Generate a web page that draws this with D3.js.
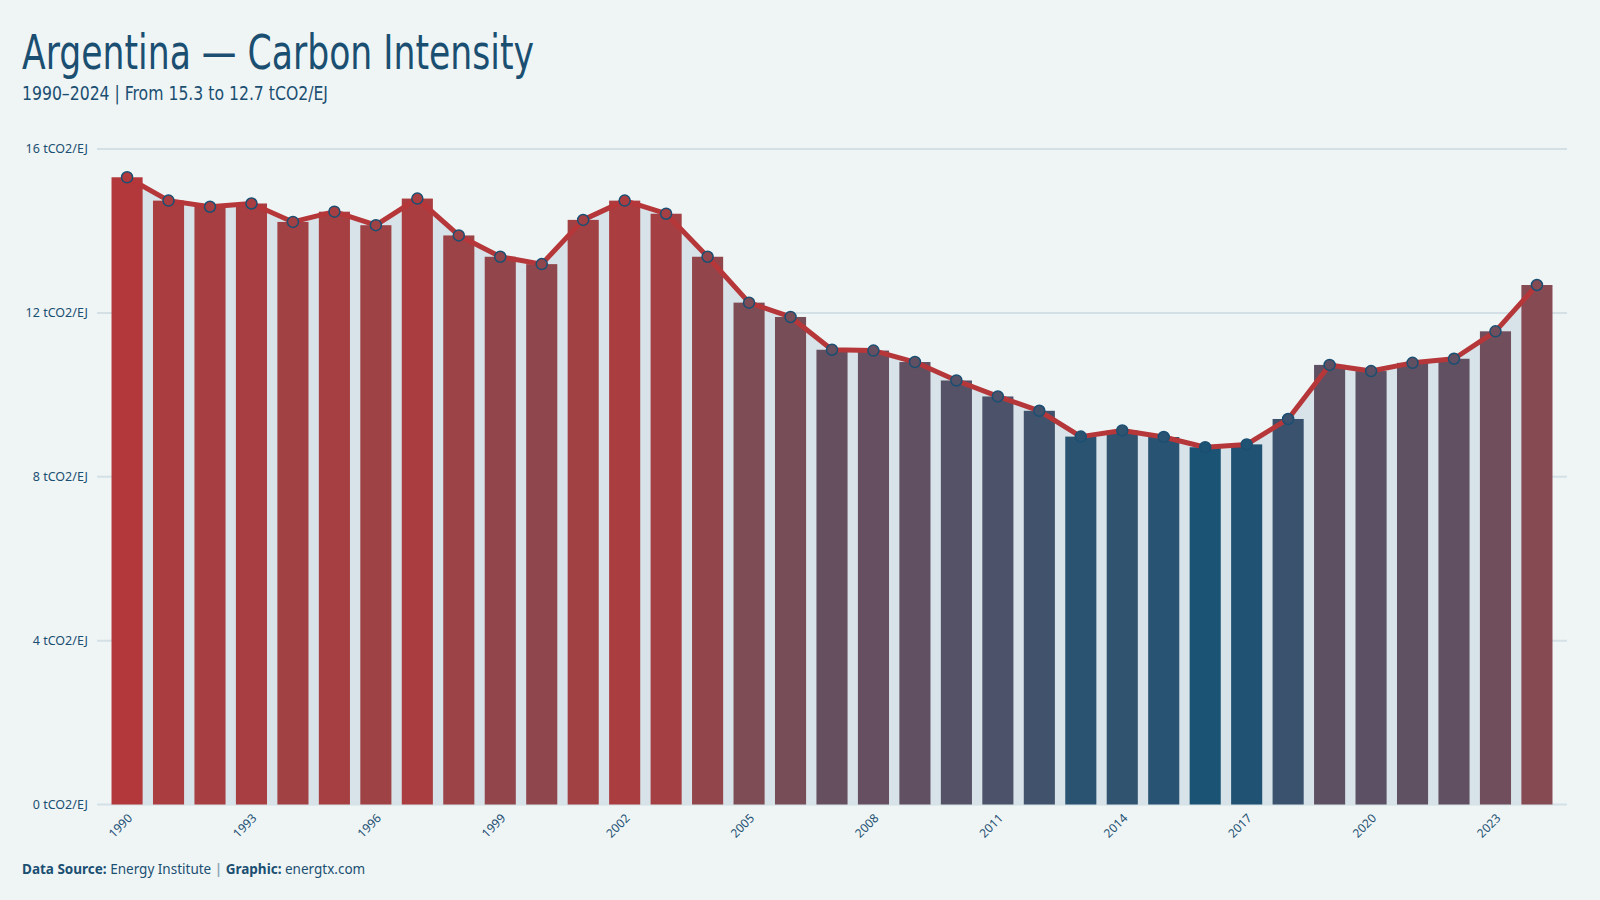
<!DOCTYPE html>
<html>
<head>
<meta charset="utf-8">
<script src="https://cdn.jsdelivr.net/npm/d3@7"></script>
<style>
  html, body { margin: 0; padding: 0; background: #eff5f5; }
  svg { display: block; }
</style>
</head>
<body>
<div id="chart"></div>
<script>
'use strict';

// data (tCO2/EJ)
const years = [1990, 1991, 1992, 1993, 1994, 1995, 1996, 1997, 1998, 1999,
  2000, 2001, 2002, 2003, 2004, 2005, 2006, 2007, 2008, 2009,
  2010, 2011, 2012, 2013, 2014, 2015, 2016, 2017, 2018, 2019,
  2020, 2021, 2022, 2023, 2024]
const intensity = [15.31, 14.74, 14.59, 14.67, 14.22, 14.47, 14.14, 14.79, 13.89, 13.37,
  13.19, 14.27, 14.74, 14.42, 13.37, 12.25, 11.90, 11.10, 11.08, 10.80,
  10.35, 9.96, 9.61, 8.98, 9.13, 8.97, 8.72, 8.79, 9.41, 10.73,
  10.58, 10.78, 10.88, 11.55, 12.68]
const yTicks = [0, 4, 8, 12, 16]
const xTickYears = [1990, 1993, 1996, 1999, 2002, 2005, 2008, 2011, 2014, 2017, 2020, 2023]

const title = 'Argentina \u2014 Carbon Intensity'
const subtitle = '1990\u20132024 | From 15.3 to 12.7 tCO2/EJ'

const W = 1600, H = 900
const ink = '#1b4f72'
const condensed = "'DejaVu Sans Condensed', 'DejaVu Sans', sans-serif"
const sans = "'Noto Sans', 'Open Sans', sans-serif"

const data = years.map((y, i) => ({year: y, value: intensity[i]}))

const svg = d3.select('#chart').append('svg')
  .attr('width', W)
  .attr('height', H)

svg.append('rect').attr('width', W).attr('height', H).attr('fill', '#eff5f5')

const x = d3.scaleBand()
  .domain(years)
  .range([97, 1567])
  .paddingInner(0.25)
  .paddingOuter(0.35)

const y = d3.scaleLinear()
  .domain([0, 16])
  .range([804.5, 149])

const color = d3.scaleLinear()
  .domain(d3.extent(intensity))
  .range(['#1b5374', '#b3383b'])
  .interpolate(d3.interpolateLab)

const cx = d => x(d.year) + x.bandwidth() / 2

// title block (condensed face squeezed to the reference width)
svg.append('text')
  .attr('x', 22).attr('y', 69)
  .style('font-family', condensed)
  .style('font-stretch', 'condensed')
  .style('font-size', '48px')
  .attr('textLength', 512)
  .attr('lengthAdjust', 'spacingAndGlyphs')
  .attr('fill', ink)
  .text(title)

svg.append('text')
  .attr('x', 22).attr('y', 100)
  .style('font-family', condensed)
  .style('font-stretch', 'condensed')
  .style('font-size', '20px')
  .attr('textLength', 306)
  .attr('lengthAdjust', 'spacingAndGlyphs')
  .attr('fill', ink)
  .text(subtitle)

// grid + y labels
const grid = svg.append('g')
grid.selectAll('line')
  .data(yTicks)
  .join('line')
  .attr('x1', 97).attr('x2', 1567)
  .attr('y1', d => y(d)).attr('y2', d => y(d))
  .attr('stroke', '#d3e0e5')
  .attr('stroke-width', 2)

grid.selectAll('text')
  .data(yTicks)
  .join('text')
  .attr('x', 88)
  .attr('y', d => y(d))
  .attr('dy', '0.35em')
  .attr('text-anchor', 'end')
  .style('font-family', sans)
  .style('font-size', '12.5px')
  .attr('fill', ink)
  .text(d => `${d} tCO2/EJ`)

// shaded area under the line
const area = d3.area()
  .x(cx)
  .y0(y(0))
  .y1(d => y(d.value))

svg.append('path')
  .datum(data)
  .attr('d', area)
  .attr('fill', '#d7e3e8')

// bars
svg.append('g')
  .selectAll('rect')
  .data(data)
  .join('rect')
  .attr('x', d => x(d.year))
  .attr('width', x.bandwidth())
  .attr('y', d => y(d.value))
  .attr('height', d => y(0) - y(d.value))
  .attr('fill', d => color(d.value))

// line
const line = d3.line()
  .x(cx)
  .y(d => y(d.value))

svg.append('path')
  .datum(data)
  .attr('d', line)
  .attr('fill', 'none')
  .attr('stroke', '#b5373a')
  .attr('stroke-width', 5)
  .attr('stroke-linejoin', 'round')
  .attr('stroke-linecap', 'round')

// points
svg.append('g')
  .selectAll('circle')
  .data(data)
  .join('circle')
  .attr('cx', cx)
  .attr('cy', d => y(d.value))
  .attr('r', 5.5)
  .attr('fill', d => color(d.value))
  .attr('stroke', ink)
  .attr('stroke-width', 1.5)

// x labels
svg.append('g')
  .selectAll('text')
  .data(xTickYears)
  .join('text')
  .attr('transform', d => `translate(${x(d) + x.bandwidth() / 2 + 6}, 819) rotate(-45)`)
  .attr('text-anchor', 'end')
  .style('font-family', sans)
  .style('font-size', '12px')
  .attr('fill', ink)
  .text(d => d)

// footer
const foot = svg.append('text')
  .attr('x', 22).attr('y', 874)
  .style('font-family', sans)
  .style('font-size', '13.5px')
  .attr('fill', ink)
foot.append('tspan').style('font-weight', 'bold').text('Data Source:')
foot.append('tspan').text(' Energy Institute ')
foot.append('tspan').attr('fill', '#8fa6b5').style('font-weight', 'bold').text('|')
foot.append('tspan').style('font-weight', 'bold').text(' Graphic:')
foot.append('tspan').text(' energtx.com')
</script>
</body>
</html>
